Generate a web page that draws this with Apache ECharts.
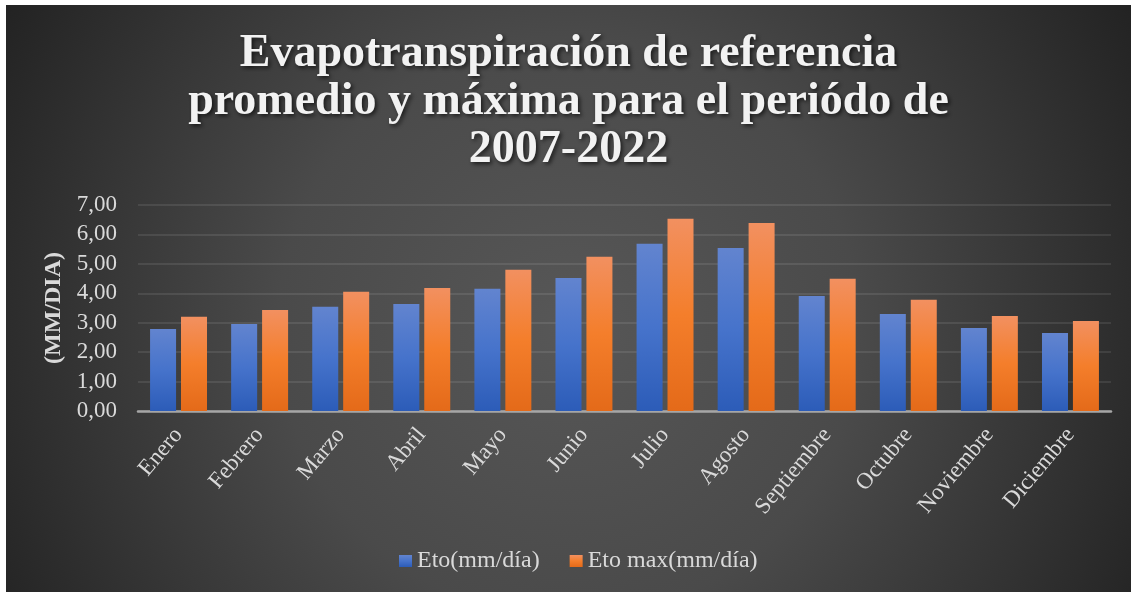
<!DOCTYPE html>
<html>
<head>
<meta charset="utf-8">
<script src="https://cdn.jsdelivr.net/npm/echarts@6/dist/echarts.min.js"></script>
<style>
    html, body { margin: 0; padding: 0; background: #ffffff; }
    #chart { position: absolute; left: 6px; top: 5px; width: 1125px; height: 587px; }
</style>
</head>
<body>
<div id="chart"></div>
<script>
var meses = ['Enero', 'Febrero', 'Marzo', 'Abril', 'Mayo', 'Junio', 'Julio', 'Agosto', 'Septiembre', 'Octubre', 'Noviembre', 'Diciembre'];
var etoProm = [2.79, 2.96, 3.54, 3.64, 4.15, 4.52, 5.68, 5.54, 3.91, 3.30, 2.82, 2.65];
var etoMax = [3.20, 3.43, 4.05, 4.18, 4.80, 5.24, 6.53, 6.39, 4.49, 3.78, 3.23, 3.06];
var yTicks = [0, 1, 2, 3, 4, 5, 6, 7];

var fuente = 'Liberation Serif, Times New Roman, serif';
var gris = '#d9d9d9';

function degradado(c1, c2, c3) {
    return {
        type: 'linear', x: 0, y: 0, x2: 0, y2: 1,
        colorStops: [{offset: 0, color: c1}, {offset: 0.5, color: c2}, {offset: 1, color: c3}]
    };
}

var myChart = echarts.init(document.getElementById('chart'));
var option = {
    backgroundColor: {
        type: 'radial', x: 0.5, y: 0.55, r: 1.1,
        colorStops: [
            {offset: 0, color: '#575757'},
            {offset: 0.45, color: '#4a4a4a'},
            {offset: 1, color: '#232323'}
        ]
    },
    title: {
        text: 'Evapotranspiración de referencia\npromedio y máxima para el periódo de\n2007-2022',
        left: 'center',
        top: 25,
        padding: 0,
        textStyle: {
            fontFamily: fuente,
            fontSize: 46,
            fontWeight: 'bold',
            lineHeight: 48,
            color: '#f2f2f2',
            textShadowColor: 'rgba(0,0,0,0.65)',
            textShadowBlur: 4,
            textShadowOffsetX: 2,
            textShadowOffsetY: 2
        }
    },
    legend: {
        left: 393,
        top: 544,
        padding: 0,
        itemWidth: 13,
        itemHeight: 12,
        itemGap: 30,
        icon: 'rect',
        textStyle: {fontFamily: fuente, fontSize: 24, color: gris},
        data: ['Eto(mm/día)', 'Eto max(mm/día)']
    },
    grid: {left: 132, right: 20, top: 200, bottom: 181, containLabel: false},
    xAxis: {
        type: 'category',
        data: meses,
        axisLine: {lineStyle: {color: '#a6a6a6', width: 2.5}},
        axisTick: {show: false},
        axisLabel: {
            interval: 0,
            rotate: 50,
            margin: 20,
            fontFamily: fuente,
            fontSize: 23,
            color: gris
        }
    },
    yAxis: {
        type: 'value',
        min: yTicks[0],
        max: yTicks[yTicks.length - 1],
        interval: 1,
        name: '(MM/DIA)',
        nameLocation: 'middle',
        nameRotate: 90,
        nameGap: 70,
        nameTextStyle: {fontFamily: fuente, fontSize: 24, fontWeight: 'bold', color: gris},
        axisLine: {show: false},
        axisTick: {show: false},
        axisLabel: {
            margin: 21,
            fontFamily: fuente,
            fontSize: 23,
            color: gris,
            formatter: function (v) { return v.toFixed(2).replace('.', ','); }
        },
        splitLine: {lineStyle: {color: 'rgba(255,255,255,0.12)', width: 1.5}}
    },
    series: [
        {
            name: 'Eto(mm/día)',
            type: 'bar',
            data: etoProm,
            barWidth: 26,
            barGap: '19%',
            itemStyle: {
                color: degradado('#6284cf', '#4673cb', '#2c5cb8'),
                shadowColor: 'rgba(0,0,0,0.55)',
                shadowBlur: 8,
                shadowOffsetX: 2,
                shadowOffsetY: 1
            }
        },
        {
            name: 'Eto max(mm/día)',
            type: 'bar',
            data: etoMax,
            barWidth: 26,
            itemStyle: {
                color: degradado('#f29060', '#f47e2b', '#e46a19'),
                shadowColor: 'rgba(0,0,0,0.55)',
                shadowBlur: 8,
                shadowOffsetX: 2,
                shadowOffsetY: 1
            }
        }
    ]
};
myChart.setOption(option);
</script>
</body>
</html>
